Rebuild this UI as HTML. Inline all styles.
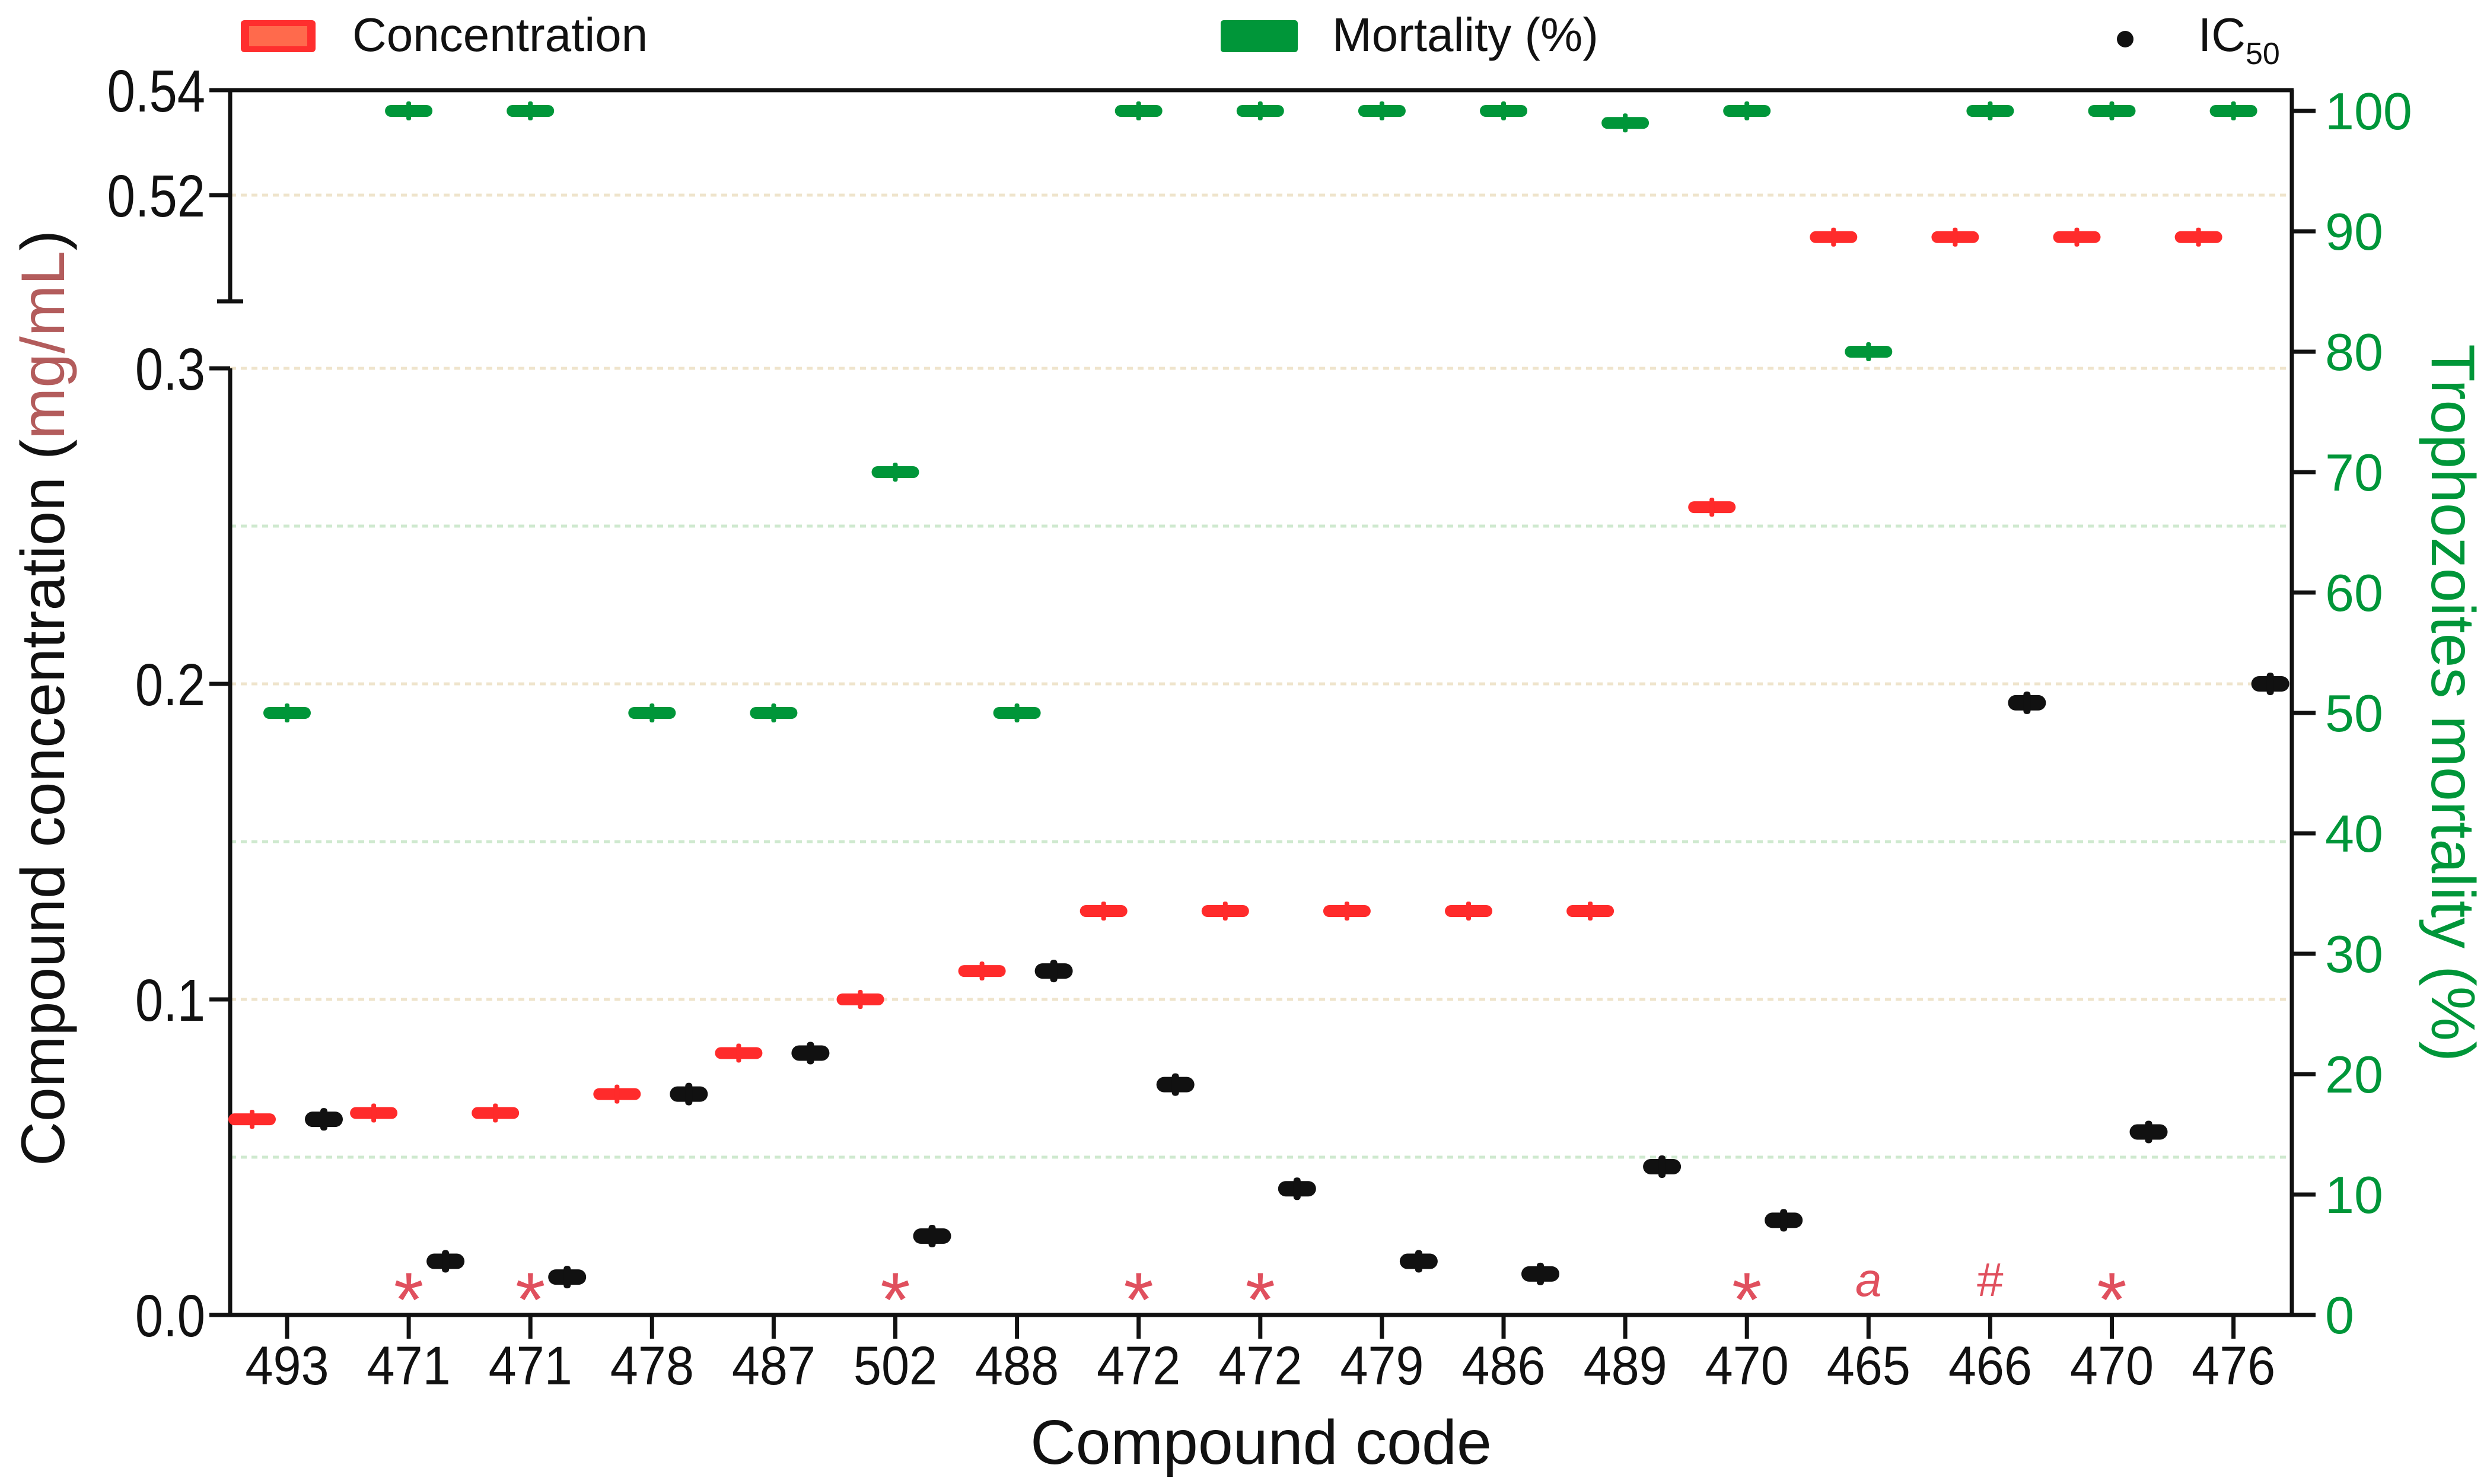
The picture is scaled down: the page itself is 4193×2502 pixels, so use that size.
<!DOCTYPE html>
<html><head><meta charset="utf-8"><style>
html,body{margin:0;padding:0;background:#fff}
svg{display:block}
text{font-family:"Liberation Sans",Arial,sans-serif}
</style></head><body>
<svg id="chart" width="4193" height="2502" viewBox="0 0 4193 2502" xmlns="http://www.w3.org/2000/svg">
<g id="grid"></g>
<g id="axes"></g>
<g id="marks"></g>
<g>
  <rect x="406" y="34" width="126" height="54" rx="6" fill="#ff2e2e"/>
  <rect x="420" y="44" width="98" height="34" fill="#ff6a4c"/>
  <text x="594" y="86" font-size="80" fill="#111">Concentration</text>
  <rect x="2058" y="34" width="130" height="54" rx="5" fill="#009639"/>
  <text x="2246" y="86" font-size="80" fill="#111">Mortality (%)</text>
  <circle cx="3583" cy="66" r="14" fill="#111"/>
  <text x="3706" y="86" font-size="80" fill="#111">IC<tspan font-size="52" dy="22">50</tspan></text>
</g>
<text x="2126" y="2468" font-size="106" text-anchor="middle" fill="#111">Compound code</text>
<text transform="translate(108,1177) rotate(-90)" font-size="104" text-anchor="middle" fill="#111">Compound concentration (<tspan fill="#b35c5c">mg/mL</tspan>)</text>
<text transform="translate(4100,1185) rotate(90)" font-size="104" text-anchor="middle" fill="#009639">Trophozoites mortality (%)</text>
</svg>
<script>
const categories = ["493","471","471","478","487","502","488","472","472","479","486","489","470","465","466","470","476"];
const concentration = [0.062,0.064,0.064,0.070,0.083,0.100,0.109,0.128,0.128,0.128,0.128,0.128,0.256,0.512,0.512,0.512,0.512];
const mortality = [50,100,100,50,50,70,50,100,100,100,100,99,100,80,100,100,100];
const ic50 = [0.062,0.017,0.012,0.070,0.083,0.025,0.109,0.073,0.040,0.017,0.013,0.047,0.030,null,0.194,0.058,0.200];
const annotations = ["","*","*","","","*","","*","*","","","","*","a","#","*",""];
const leftTicksLow = ["0.0","0.1","0.2","0.3"];
const leftTicksHigh = ["0.52","0.54"];
const rightTicks = [0,10,20,30,40,50,60,70,80,90,100];

const NS="http://www.w3.org/2000/svg";
const L=388,R=3864,T=152,B=2217,BRK=508;
function xPos(i){return 484+i*205.1;}
function yConc(v){return v<=0.3 ? B - v*5320 : 329 - (v-0.52)*8850;}
function yMort(m){return B - m*20.3;}
function mk(tag,attrs,parent){const e=document.createElementNS(NS,tag);for(const k in attrs)e.setAttribute(k,attrs[k]);parent.appendChild(e);return e;}
const grid=document.getElementById('grid'),axes=document.getElementById('axes'),marks=document.getElementById('marks');

[0.1,0.2,0.3,0.52].forEach(v=>{const g=mk('line',{x1:L,x2:R,y1:yConc(v),y2:yConc(v),stroke:'#efe4cc','stroke-width':5,'stroke-dasharray':'10 8'},grid);

});
[0.05,0.15,0.25].forEach(v=>{const g=mk('line',{x1:L,x2:R,y1:yConc(v),y2:yConc(v),stroke:'#cfe9cf','stroke-width':5,'stroke-dasharray':'10 8'},grid);

});

const ax=(a,n)=>{const e=mk('line',Object.assign({stroke:'#111','stroke-width':7},a),axes);};
ax({x1:L,x2:R+3,y1:T,y2:T},'top-axis-line');
ax({x1:R,x2:R,y1:T,y2:B},'right-axis-line');
ax({x1:L,x2:L,y1:T,y2:BRK},'left-axis-upper');
ax({x1:L-22,x2:L+22,y1:BRK,y2:BRK},'axis-break-cap');
ax({x1:L,x2:L,y1:yConc(0.3),y2:B},'left-axis-lower');
ax({x1:L-35,x2:R+3,y1:B,y2:B},'x-axis-line');

leftTicksLow.concat(leftTicksHigh).forEach(t=>{const y=yConc(parseFloat(t));
  ax({x1:L-35,x2:L,y1:y,y2:y},'left-tick');
  const tx=mk('text',{x:0,y:0,'font-size':100,'text-anchor':'end',fill:'#111',transform:`translate(${L-42},${y+36}) scale(0.85,1)`},axes);
  tx.textContent=t;
  
  });
rightTicks.forEach(t=>{const y=yMort(t);
  ax({x1:R,x2:R+40,y1:y,y2:y},'right-tick');
  const tx=mk('text',{x:R+56,y:y+31,'font-size':88,fill:'#009639'},axes);
  tx.textContent=t;
  
  });
categories.forEach((c,i)=>{const x=xPos(i);
  ax({x1:x,x2:x,y1:B,y2:B+40},'x-tick');
  const tx=mk('text',{x:0,y:0,'font-size':92,'text-anchor':'middle',fill:'#111',transform:`translate(${x},${2334}) scale(0.92,1)`},axes);
  tx.textContent=c;
  
  });

function bar(x,y,color,name){
  const g=mk('g',{},marks);
  
  
  mk('rect',{x:x-40,y:y-10,width:80,height:20,rx:10,fill:color},g);
  mk('rect',{x:x-4,y:y-16,width:8,height:32,rx:3,fill:color},g);
}
categories.forEach((c,i)=>{
  const x=xPos(i);
  bar(x-59,yConc(concentration[i]),'#ff2b2b','concentration-mark');
  bar(x,yMort(mortality[i]),'#009639','mortality-mark');
  if(ic50[i]!==null){
    const g=mk('g',{},marks);
    
    
    const y=yConc(ic50[i]),xx=x+62;
    mk('rect',{x:xx-32,y:y-13,width:64,height:26,rx:13,fill:'#111'},g);
    mk('rect',{x:xx-6,y:y-19,width:12,height:38,rx:5,fill:'#111'},g);
  }
  if(annotations[i]){
    const s=annotations[i];
    const a=mk('text',{x:x,y:s==='*'?2236:2185,'font-size':s==='*'?130:80,'text-anchor':'middle',fill:'#e0505e','font-style':s==='a'?'italic':'normal'},marks);
    if(s==='a'){a.setAttribute('font-family','Liberation Serif, serif');}
    a.textContent=s;
    
    
  }
});
</script>
</body></html>
